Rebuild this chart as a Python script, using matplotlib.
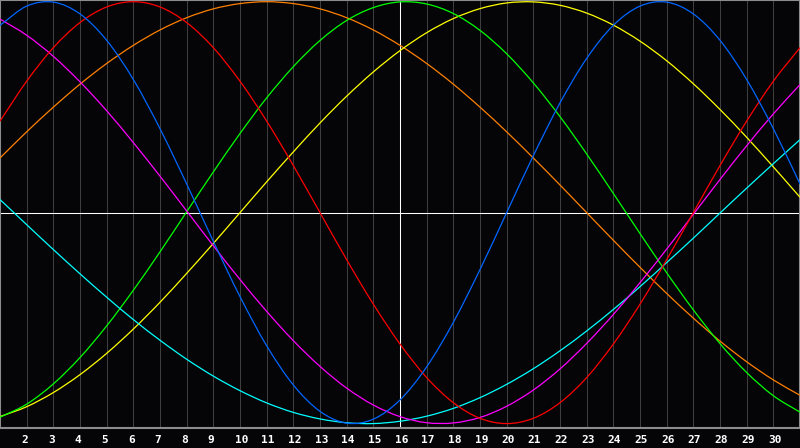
import matplotlib
matplotlib.use('Agg')
import numpy as np
import matplotlib.pyplot as plt
from matplotlib.path import Path
from matplotlib.patches import PathPatch
from matplotlib.transforms import offset_copy

# days of the month shown on the chart
days = list(range(1, 32))

# cycle values, one per day (-1 .. 1)
physical = [0.888, 0.979, 0.998, 0.942, 0.817, 0.631, 0.398, 0.136, -0.136,
            -0.398, -0.631, -0.817, -0.942, -0.998, -0.979, -0.888, -0.731,
            -0.52, -0.27, 0.0, 0.27, 0.52, 0.731, 0.888, 0.979, 0.998, 0.942,
            0.817, 0.631, 0.398, 0.136]
emotional = [0.434, 0.623, 0.782, 0.901, 0.975, 1.0, 0.975, 0.901, 0.782,
             0.623, 0.434, 0.223, 0.0, -0.223, -0.434, -0.623, -0.782, -0.901,
             -0.975, -1.0, -0.975, -0.901, -0.782, -0.623, -0.434, -0.223,
             0.0, 0.223, 0.434, 0.623, 0.782]
intellectual = [-0.97, -0.908, -0.812, -0.687, -0.537, -0.368, -0.186, 0.004,
                0.193, 0.375, 0.544, 0.692, 0.816, 0.911, 0.972, 0.999, 0.989,
                0.944, 0.864, 0.753, 0.615, 0.455, 0.278, 0.091, -0.099,
                -0.285, -0.461, -0.621, -0.758, -0.868, -0.946]
intuitive = [0.918, 0.841, 0.741, 0.62, 0.483, 0.332, 0.173, 0.008, -0.157,
             -0.317, -0.468, -0.607, -0.729, -0.832, -0.912, -0.967, -0.996,
             -0.997, -0.971, -0.918, -0.841, -0.741, -0.62, -0.483, -0.332,
             -0.173, -0.008, 0.157, 0.317, 0.468, 0.607]
aesthetic = [-0.967, -0.92, -0.853, -0.768, -0.667, -0.552, -0.425, -0.288,
             -0.146, 0.0, 0.146, 0.288, 0.425, 0.552, 0.667, 0.768, 0.853,
             0.92, 0.967, 0.994, 0.999, 0.983, 0.946, 0.889, 0.813, 0.72,
             0.611, 0.489, 0.357, 0.217, 0.073]
awareness = [0.259, 0.383, 0.5, 0.609, 0.707, 0.793, 0.866, 0.924, 0.966,
             0.991, 1.0, 0.991, 0.966, 0.924, 0.866, 0.793, 0.707, 0.609, 0.5,
             0.383, 0.259, 0.131, 0.0, -0.131, -0.259, -0.383, -0.5, -0.609,
             -0.707, -0.793, -0.866]
spiritual = [0.062, -0.057, -0.175, -0.29, -0.401, -0.507, -0.605, -0.695,
             -0.775, -0.844, -0.902, -0.947, -0.978, -0.996, -1.0, -0.989,
             -0.965, -0.928, -0.877, -0.814, -0.74, -0.655, -0.561, -0.459,
             -0.351, -0.237, -0.121, -0.002, 0.116, 0.232, 0.346]

tick_days = days[1:-1]
today = 16

BG = '#050508'

series = [
    (awareness, '#ff8000'),
    (aesthetic, '#ffff00'),
    (intellectual, '#00ff00'),
    (spiritual, '#00ffff'),
    (intuitive, '#ff00ff'),
    (emotional, '#ff0000'),
    (physical, '#0066ff'),
]


def smooth_path(xs, ys):
    # draw the daily values as one smooth bezier line (catmull-rom handles)
    pts = np.column_stack([xs, ys]).astype(float)
    n = len(pts)
    tang = np.empty_like(pts)
    tang[1:-1] = (pts[2:] - pts[:-2]) / 2
    tang[0] = pts[1] - pts[0]
    tang[-1] = pts[-1] - pts[-2]
    verts = [pts[0]]
    codes = [Path.MOVETO]
    for i in range(n - 1):
        verts += [pts[i] + tang[i] / 3, pts[i + 1] - tang[i + 1] / 3, pts[i + 1]]
        codes += [Path.CURVE4] * 3
    return Path(verts, codes)


fig = plt.figure(figsize=(8, 4.48), dpi=100, facecolor=BG)
ax = fig.add_axes([0, 20 / 448, 1, 428 / 448], facecolor=BG)
ax.set_xlim(1, 31)
ax.set_ylim(-1.021, 1.008)

# grid and the centre cross
for d in tick_days:
    ax.axvline(d, color='#3e3e3e', lw=0.75, zorder=1)
ax.axhline(0, color='white', lw=0.75, zorder=2)
ax.axvline(today, color='white', lw=0.75, zorder=2)

for values, colour in series:
    ax.add_patch(PathPatch(smooth_path(days, values), fill=False,
                           edgecolor=colour, lw=0.9, zorder=3))

ax.set_xticks([])
ax.set_yticks([])
for s in ax.spines.values():
    s.set_color('#8c8c8c')
    s.set_linewidth(1.5)

# day labels under the plot
label_tf = offset_copy(ax.get_xaxis_transform(), fig=fig, x=-5.5, y=-11.5,
                       units='dots')
for d in tick_days:
    ax.text(d, 0, str(d), transform=label_tf, ha='left', va='center',
            color='white', fontsize=8, fontweight='bold',
            family='DejaVu Sans Mono')

fig.savefig('out.png', dpi=100, facecolor=BG)
